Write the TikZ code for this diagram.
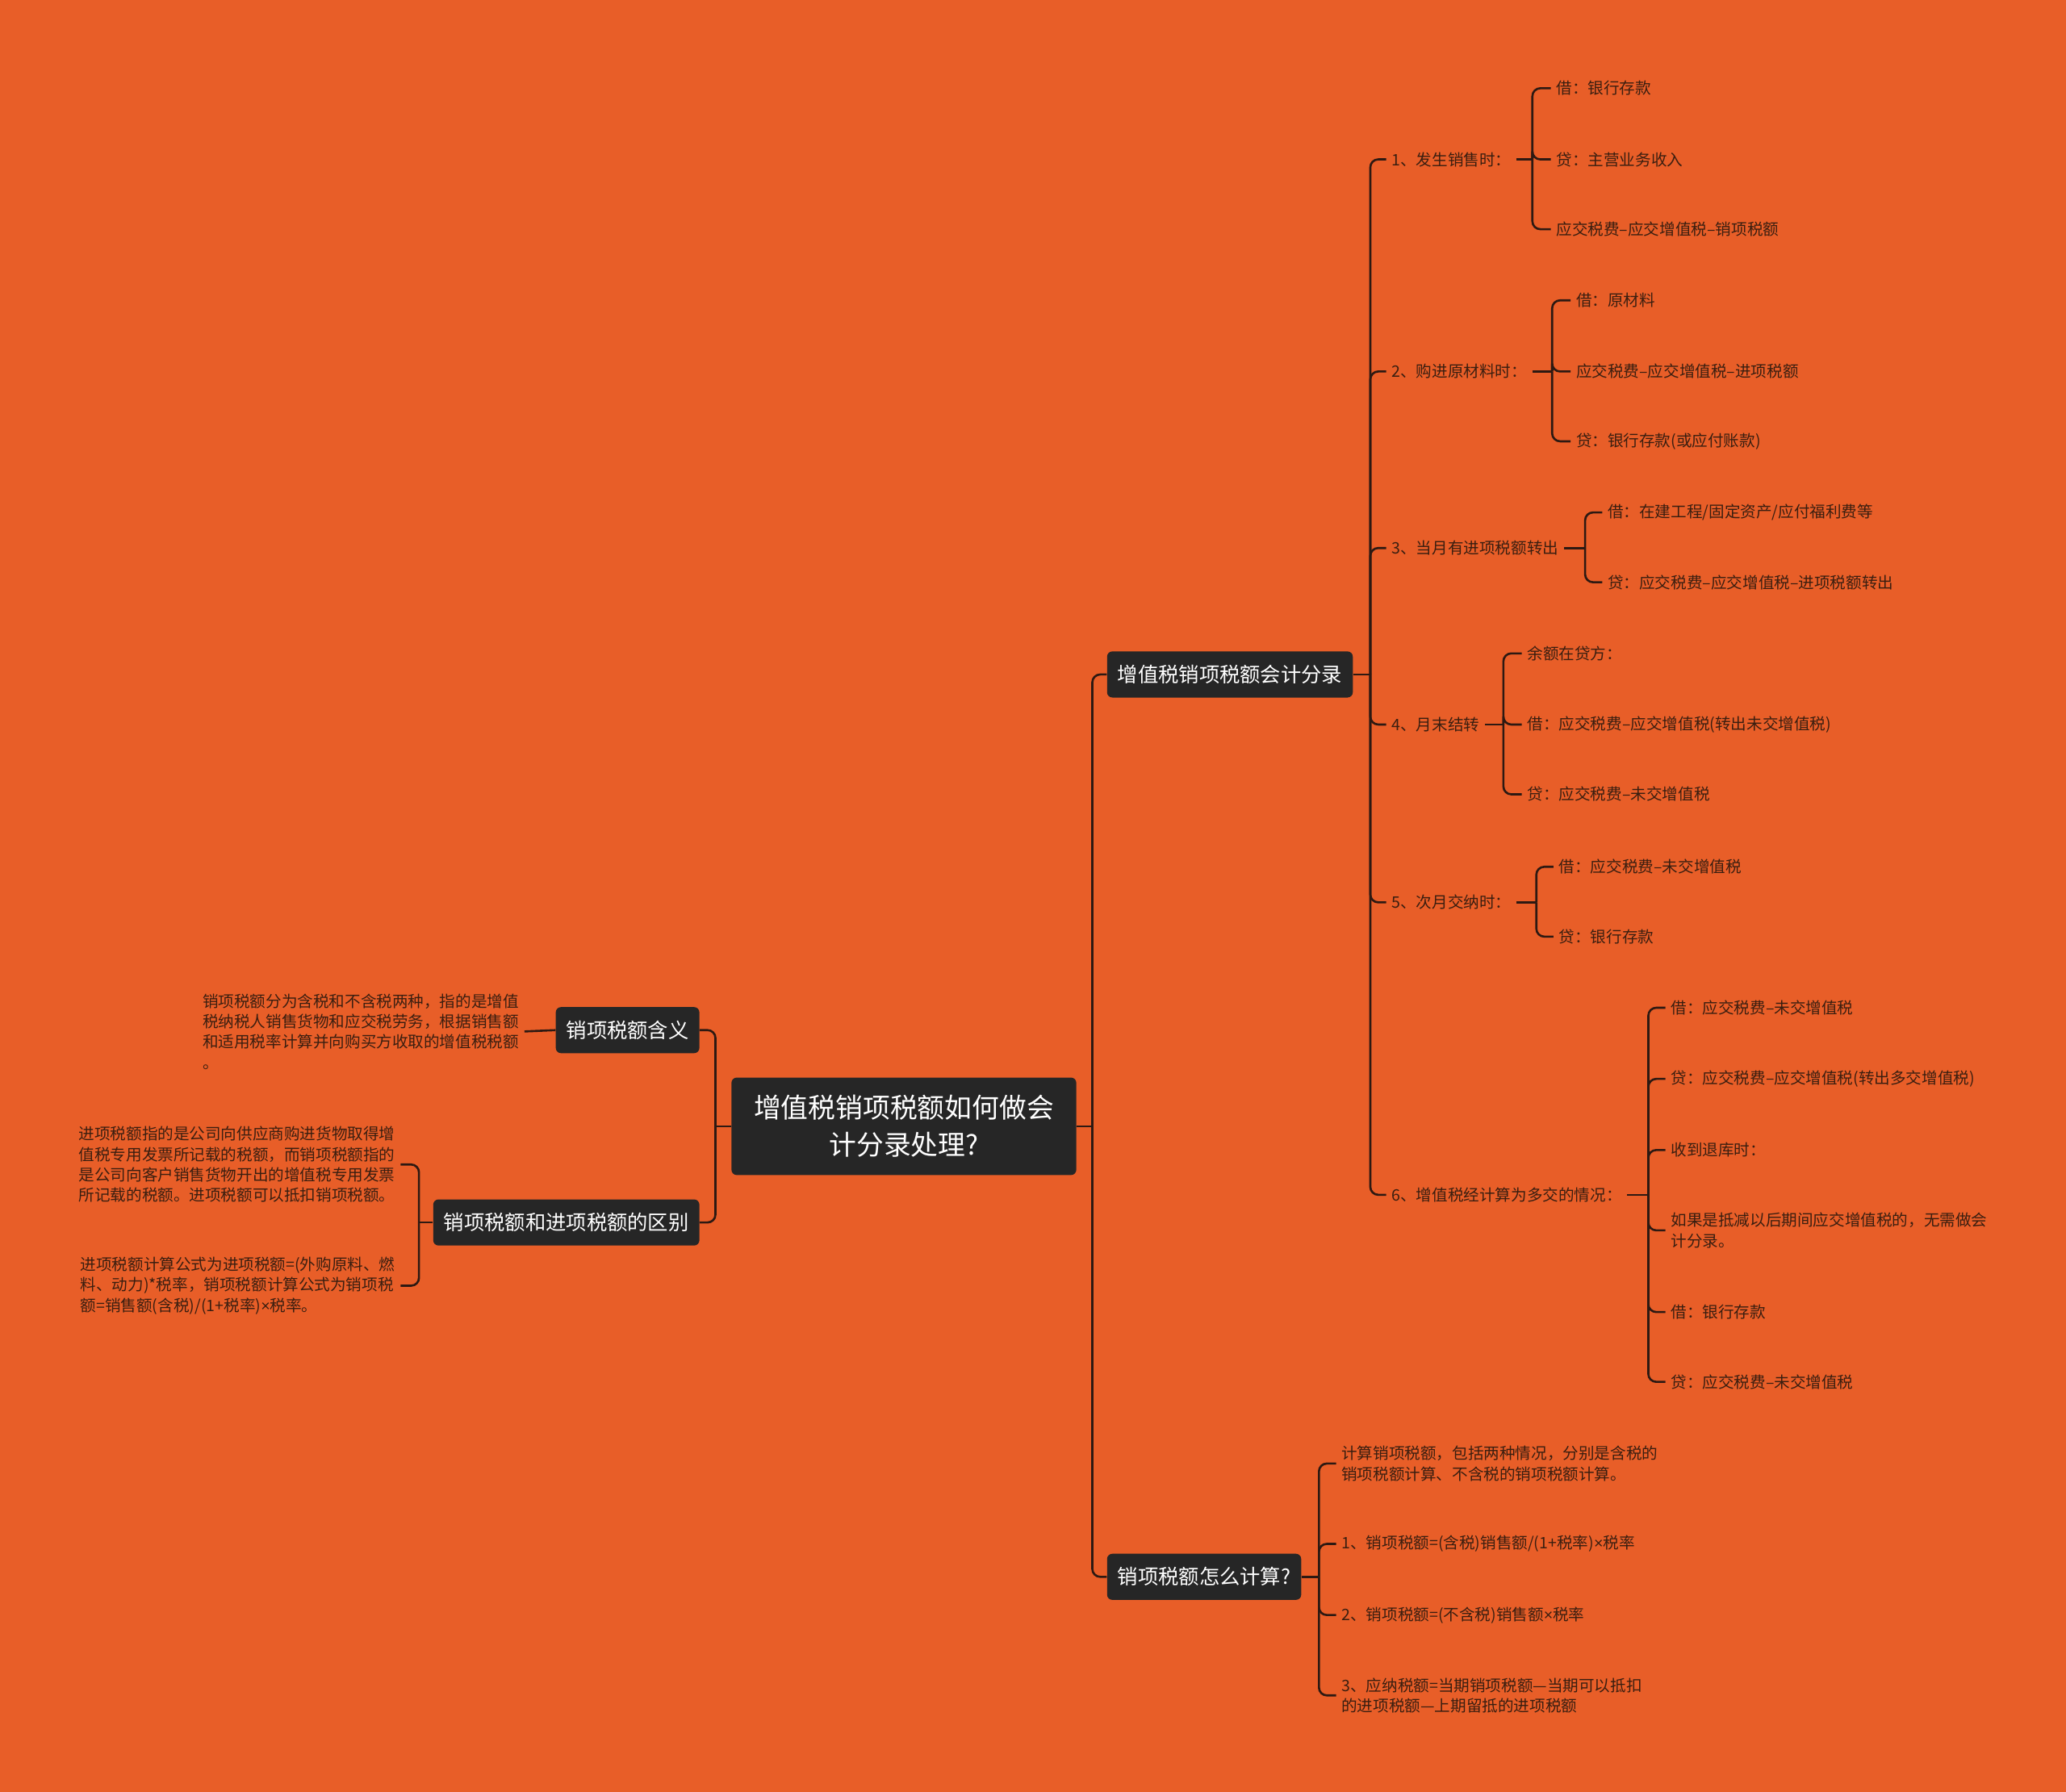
\documentclass[tikz,border=0pt]{standalone}
\usepackage{fontspec}
\setmainfont{Noto Sans CJK SC}
\newfontfamily\narrowsym{Liberation Sans}
\newcommand{\tms}{{\narrowsym ×}}
\usetikzlibrary{calc}
\definecolor{bgorange}{RGB}{232,94,40}
\definecolor{boxdark}{RGB}{38,38,38}
\definecolor{linedark}{RGB}{45,25,18}
\definecolor{leaftext}{RGB}{58,30,16}

\begin{document}
\begin{tikzpicture}[x=1pt,y=-1pt,
  topic/.style={fill=boxdark,text=white,rounded corners=4pt,minimum height=35pt,inner xsep=8pt,font=\fontsize{15.5}{18}\selectfont},
  leaf/.style={text=leaftext,inner xsep=4pt,inner ysep=1pt,align=left,font=\fontsize{12}{15.5}\selectfont},
  link/.style={draw=linedark,line width=1.6pt,rounded corners=6pt}]
  \useasboundingbox (0,0) rectangle (1568,1360);
  \fill[bgorange] (-3,-3) rectangle (1571,1363);
  % topics
  \node[topic,align=center,minimum height=74pt,inner xsep=17pt,font=\fontsize{20.7}{28}\selectfont] (root) at (686,855) {增值税销项税额如何做会\\计分录处理?};
  \node[topic,anchor=west] (rec) at (840,512) {增值税销项税额会计分录};
  \node[topic,anchor=west] (calc) at (840,1197) {销项税额怎么计算?};
  \node[topic,anchor=east] (mean) at (531,782) {销项税额含义};
  \node[topic,anchor=east] (diff) at (531,928) {销项税额和进项税额的区别};
  % steps
  \node[leaf,anchor=west] (s1) at (1052,121) {1、发生销售时：};
  \node[leaf,anchor=west] (s2) at (1052,282) {2、购进原材料时：};
  \node[leaf,anchor=west] (s3) at (1052,416) {3、当月有进项税额转出};
  \node[leaf,anchor=west] (s4) at (1052,550) {4、月末结转};
  \node[leaf,anchor=west] (s5) at (1052,685) {5、次月交纳时：};
  \node[leaf,anchor=west] (s6) at (1052,907) {6、增值税经计算为多交的情况：};
  % entries
  \node[leaf,anchor=west] (s1a) at (1177,67) {借：银行存款};
  \node[leaf,anchor=west] (s1b) at (1177,121) {贷：主营业务收入};
  \node[leaf,anchor=west] (s1c) at (1177,174) {应交税费–应交增值税–销项税额};
  \node[leaf,anchor=west] (s2a) at (1192,228) {借：原材料};
  \node[leaf,anchor=west] (s2b) at (1192,282) {应交税费–应交增值税–进项税额};
  \node[leaf,anchor=west] (s2c) at (1192,335) {贷：银行存款(或应付账款)};
  \node[leaf,anchor=west] (s3a) at (1216,389) {借：在建工程/固定资产/应付福利费等};
  \node[leaf,anchor=west] (s3b) at (1216,442) {贷：应交税费–应交增值税–进项税额转出};
  \node[leaf,anchor=west] (s4a) at (1155,496) {余额在贷方：};
  \node[leaf,anchor=west] (s4b) at (1155,550) {借：应交税费–应交增值税(转出未交增值税)};
  \node[leaf,anchor=west] (s4c) at (1155,603) {贷：应交税费–未交增值税};
  \node[leaf,anchor=west] (s5a) at (1179,658) {借：应交税费–未交增值税};
  \node[leaf,anchor=west] (s5b) at (1179,711) {贷：银行存款};
  \node[leaf,anchor=west] (s6a) at (1264,765) {借：应交税费–未交增值税};
  \node[leaf,anchor=west] (s6b) at (1264,819) {贷：应交税费–应交增值税(转出多交增值税)};
  \node[leaf,anchor=west] (s6c) at (1264,873) {收到退库时：};
  \node[leaf,anchor=west] (s6d) at (1264,934) {如果是抵减以后期间应交增值税的，无需做会\\计分录。};
  \node[leaf,anchor=west] (s6e) at (1264,996) {借：银行存款};
  \node[leaf,anchor=west] (s6f) at (1264,1049) {贷：应交税费–未交增值税};
  % formulas
  \node[leaf,anchor=west] (c1) at (1014,1111) {计算销项税额，包括两种情况，分别是含税的\\销项税额计算、不含税的销项税额计算。};
  \node[leaf,anchor=west] (c2) at (1014,1172) {1、销项税额=(含税)销售额/(1+税率)\tms 税率};
  \node[leaf,anchor=west] (c3) at (1014,1226) {2、销项税额=(不含税)销售额\tms 税率};
  \node[leaf,anchor=west] (c4) at (1014,1287) {3、应纳税额=当期销项税额—当期可以抵扣\\的进项税额—上期留抵的进项税额};
  % left side
  \node[leaf,anchor=east] (m1) at (398,783) {销项税额分为含税和不含税两种，指的是增值\\税纳税人销售货物和应交税劳务，根据销售额\\和适用税率计算并向购买方收取的增值税税额\\。};
  \node[leaf,anchor=east] (d1) at (304,884) {进项税额指的是公司向供应商购进货物取得增\\值税专用发票所记载的税额，而销项税额指的\\是公司向客户销售货物开出的增值税专用发票\\所记载的税额。进项税额可以抵扣销项税额。};
  \node[leaf,anchor=east] (d2) at (304,976) {进项税额计算公式为进项税额=(外购原料、燃\\料、动力)*税率，销项税额计算公式为销项税\\额=销售额(含税)/(1+税率)\tms 税率。};
  % connectors
  \draw[link] (root.east) -- (829,855);
  \foreach \n in {rec,calc} \draw[link] (829,855) |- (\n.west);
  \draw[link] (root.west) -- (543,855);
  \foreach \n in {mean,diff} \draw[link] (543,855) |- (\n.east);
  \draw[link] (mean.west) -- (m1.east);
  \draw[link] (diff.west) -- (318,928);
  \foreach \n in {d1,d2} \draw[link] (318,928) |- (\n.east);
  \draw[link] (rec.east) -- (1040,512);
  \foreach \n in {s1,s2,s3,s4,s5,s6} \draw[link] (1040,512) |- (\n.west);
  \draw[link] (calc.east) -- (1001,1197);
  \foreach \n in {c1,c2,c3,c4} \draw[link] (1001,1197) |- (\n.west);
  \foreach \p/\v/\kids in {s1/1163/{s1a,s1b,s1c},s2/1178/{s2a,s2b,s2c},s3/1203/{s3a,s3b},
      s4/1141/{s4a,s4b,s4c},s5/1166/{s5a,s5b},s6/1251/{s6a,s6b,s6c,s6d,s6e,s6f}}{
    \coordinate (j) at (\v,0 |- \p.east);
    \draw[link] (\p.east) -- (j);
    \foreach \k in \kids \draw[link] (j) |- (\k.west);
  }
\end{tikzpicture}
\end{document}
